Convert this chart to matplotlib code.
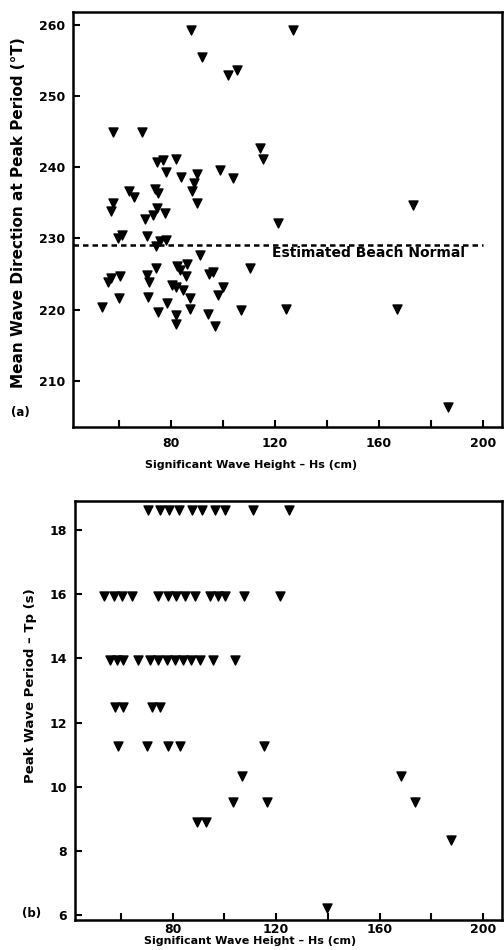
import numpy as np
import matplotlib.pyplot as plt

# (a) significant wave height (cm) vs mean direction at peak period (deg T)
hs_a = [87.7, 127.0, 91.8, 101.8, 105.3, 57.6, 68.7, 114.2, 115.5, 74.5,
        76.8, 81.9, 78.1, 83.8, 90.1, 88.8, 88.1, 98.8, 103.7, 63.8,
        65.9, 74.0, 74.9, 57.6, 56.8, 74.5, 73.0, 70.0, 77.7, 90.1,
        121.3, 61.0, 59.7, 70.9, 74.2, 75.8, 78.1, 91.2, 74.2, 82.2,
        83.5, 86.3, 85.8, 94.8, 96.3, 110.4, 56.8, 55.9, 60.4, 70.9,
        71.7, 80.3, 81.9, 84.5, 100.1, 98.2, 53.3, 60.1, 71.3, 78.3,
        87.3, 75.1, 81.9, 81.9, 87.3, 94.3, 96.9, 106.8, 124.2, 167.1,
        186.7, 173.2]
dir_a = [259.2, 259.3, 255.5, 252.9, 253.6, 245.0, 244.9, 242.7, 241.2, 240.7,
         241.0, 241.1, 239.3, 238.6, 239.0, 237.8, 236.7, 239.6, 238.5, 236.7,
         235.8, 237.0, 236.4, 234.9, 233.9, 234.3, 233.3, 232.7, 233.6, 235.0,
         232.2, 230.5, 230.0, 230.3, 228.9, 229.6, 229.8, 227.6, 225.9, 226.1,
         225.6, 226.4, 224.7, 225.0, 225.3, 225.8, 224.4, 223.9, 224.7, 224.9,
         223.9, 223.5, 223.2, 222.8, 223.2, 222.1, 220.4, 221.6, 221.8, 220.9,
         221.6, 219.7, 219.3, 218.0, 220.1, 219.4, 217.7, 219.9, 220.1, 220.1,
         206.3, 234.7]
beach_normal = 229.1

# (b) significant wave height (cm) vs peak period (s)
hs_b = [70.4, 75.1, 78.6, 82.4, 87.6, 91.2, 96.5, 100.1, 111.0, 124.9,
        53.7, 57.2, 60.4, 64.2, 74.5, 78.1, 81.5, 84.7, 88.8, 94.3, 97.6, 100.1, 107.6, 121.7,
        55.9, 58.5, 61.0, 66.8, 71.3, 74.5, 77.7, 80.9, 84.1, 87.3, 90.5, 95.7, 104.2,
        57.6, 60.7, 71.9, 75.1,
        58.8, 70.0, 78.1, 82.8, 115.5,
        106.8, 168.1,
        103.3, 116.5, 173.8,
        89.6, 93.1,
        187.6,
        139.6]
tp_b = [18.62] * 10 + [15.95] * 14 + [13.95] * 13 + [12.48] * 4 + [11.28] * 5 \
    + [10.33] * 2 + [9.54] * 3 + [8.89] * 2 + [8.35] + [6.21]

x_ticks = [60, 80, 100, 120, 140, 160, 180, 200]
x_labels = ['', '80', '', '120', '', '160', '', '200']

plt.rcParams['font.family'] = 'DejaVu Sans'
plt.rcParams['font.weight'] = 'bold'

fig = plt.figure(figsize=(5.04, 9.5), dpi=100)
ax1 = fig.add_axes([0.1448, 0.5505, 0.8512, 0.4369])
ax2 = fig.add_axes([0.1488, 0.0316, 0.8472, 0.4410])

for ax in (ax1, ax2):
    for s in ax.spines.values():
        s.set_linewidth(1.8)
    ax.tick_params(direction='in', length=5, width=1.5, labelsize=9,
                   top=False, right=False)
    ax.tick_params(axis='y', pad=5.5)
    ax.set_xlim(42.3, 207.3)
    ax.set_xticks(x_ticks)
    ax.set_xticklabels(x_labels, fontweight='bold')
    ax.set_xlabel('Significant Wave Height \u2013 Hs (cm)', fontsize=8,
                  fontweight='bold', va='center')

ax1.tick_params(axis='x', pad=7.5)
ax2.tick_params(axis='x', pad=2)

# panel (a)
ax1.scatter(hs_a, dir_a, marker='v', s=42, color='black', zorder=3)
ax1.plot([42.3, 200], [beach_normal, beach_normal], color='black',
         linestyle=(0, (2.2, 1.6)), linewidth=1.8)
ax1.text(119, beach_normal - 0.15, 'Estimated Beach Normal', fontsize=10,
         fontweight='bold', ha='left', va='top')
ax1.set_ylim(203.5, 261.8)
ax1.set_yticks([210, 220, 230, 240, 250, 260])
ax1.set_ylabel('Mean Wave Direction at Peak Period (\u00b0T)', fontsize=11,
               fontweight='bold', va='center')
ax1.xaxis.set_label_coords(0.415, -0.0916)
ax1.yaxis.set_label_coords(-0.128, 0.517)
ax1.text(-0.145, 0.036, '(a)', transform=ax1.transAxes, fontsize=8.5,
         fontweight='bold', ha='left', va='center')

# panel (b)
ax2.scatter(hs_b, tp_b, marker='v', s=42, color='black', zorder=3)
ax2.set_ylim(5.85, 18.9)
ax2.set_yticks([6, 8, 10, 12, 14, 16, 18])
ax2.set_ylabel('Peak Wave Period \u2013 Tp (s)', fontsize=9.5,
               fontweight='bold', va='center')
ax2.xaxis.set_label_coords(0.41, -0.05)
ax2.yaxis.set_label_coords(-0.105, 0.56)
ax2.text(-0.125, 0.015, '(b)', transform=ax2.transAxes, fontsize=8.5,
         fontweight='bold', ha='left', va='center')

fig.savefig('out.png', dpi=100)
